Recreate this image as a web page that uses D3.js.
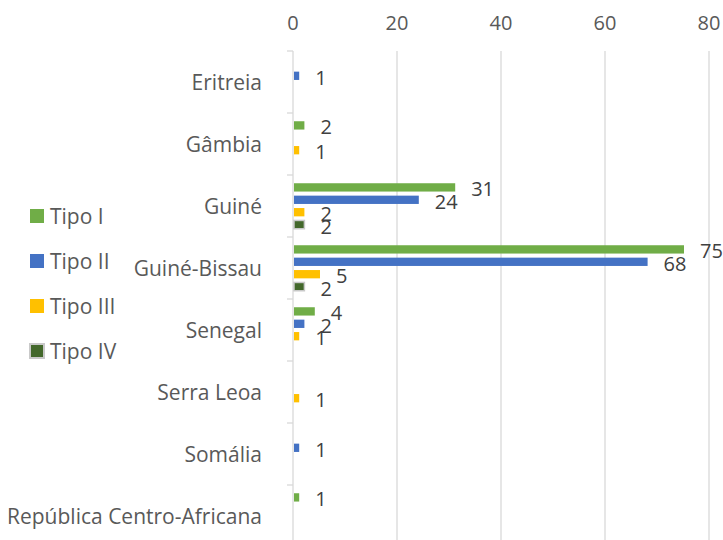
<!DOCTYPE html>
<html>
<head>
<meta charset="utf-8">
<script src="https://cdn.jsdelivr.net/npm/d3@7"></script>
<style>
	body { margin: 0; background: #fff; }
	text { font-family: "Open Sans", sans-serif; }
</style>
</head>
<body>
<div class="canvas"></div>
<script>
const dims = {width: 723, height: 540};

// data
const countries = ['Eritreia', 'Gâmbia', 'Guiné', 'Guiné-Bissau', 'Senegal', 'Serra Leoa', 'Somália', 'República Centro-Africana'];
const series = ['Tipo I', 'Tipo II', 'Tipo III', 'Tipo IV'];
const tipoI   = [0, 2, 31, 75, 4, 0, 0, 1];
const tipoII  = [1, 0, 24, 68, 2, 0, 1, 0];
const tipoIII = [0, 1, 2, 5, 1, 1, 0, 0];
const tipoIV  = [0, 0, 2, 2, 0, 0, 0, 0];
const xTicks = [0, 20, 40, 60, 80];

const values = [tipoI, tipoII, tipoIII, tipoIV];
const colours = ['#70ad47', '#4472c4', '#ffc000', '#43682b'];

const svg = d3.select('.canvas')
	.append('svg')
	.attr('width', dims.width)
	.attr('height', dims.height);

// scales
const x = d3.scaleLinear()
	.domain([0, 80])
	.range([293, 709]);

const y = d3.scaleBand()
	.domain(countries)
	.range([51, 51 + 62 * countries.length]);

const inner = d3.scaleBand()
	.domain(series)
	.range([6.2, 55.8])
	.paddingInner(0.33)
	.paddingOuter(0.165);

// grid lines
svg.append('g')
	.selectAll('line')
	.data(xTicks.slice(1))
	.enter()
	.append('line')
		.attr('x1', d => x(d))
		.attr('x2', d => x(d))
		.attr('y1', 51)
		.attr('y2', dims.height)
		.attr('stroke', '#d9d9d9')
		.attr('stroke-width', 1.3);

// top tick labels
svg.append('g')
	.selectAll('text')
	.data(xTicks)
	.enter()
	.append('text')
		.attr('x', d => x(d))
		.attr('y', 22)
		.attr('text-anchor', 'middle')
		.attr('dominant-baseline', 'central')
		.attr('font-size', 20)
		.attr('fill', '#595959')
		.text(d => d);

// category axis
const yAxis = svg.append('g')
	.attr('transform', `translate(${x(0)}, 0)`)
	.call(d3.axisLeft(y).tickSize(0).tickFormat(''));
yAxis.select('.domain').remove();

yAxis.append('line')
	.attr('y1', 51)
	.attr('y2', dims.height)
	.attr('stroke', '#d9d9d9')
	.attr('stroke-width', 1.3);

yAxis.selectAll('.boundary')
	.data(countries)
	.enter()
	.append('line')
		.attr('class', 'boundary')
		.attr('x1', -6)
		.attr('x2', 0)
		.attr('y1', d => y(d))
		.attr('y2', d => y(d))
		.attr('stroke', '#d9d9d9')
		.attr('stroke-width', 1.3);

svg.append('g')
	.selectAll('text')
	.data(countries)
	.enter()
	.append('text')
		.attr('x', 262)
		.attr('y', d => y(d) + y.bandwidth() / 2)
		.attr('text-anchor', 'end')
		.attr('dominant-baseline', 'central')
		.attr('font-size', 21)
		.attr('fill', '#595959')
		.text(d => d);

// bars
const barData = [];
countries.forEach((c, i) => {
	series.forEach((s, j) => {
		if (values[j][i] > 0) barData.push({country: c, series: s, idx: j, value: values[j][i]});
	});
});

const bars = svg.append('g')
	.selectAll('.bar')
	.data(barData)
	.enter()
	.append('g')
		.attr('class', 'bar')
		.attr('transform', d => `translate(0, ${y(d.country) + inner(d.series)})`);

bars.append('rect')
	.attr('x', x(0) + 1)
	.attr('y', 0)
	.attr('width', d => x(d.value) - x(0))
	.attr('height', inner.bandwidth())
	.attr('fill', d => colours[d.idx])
	.attr('stroke', d => d.idx === 3 ? '#c9c9c9' : 'none')
	.attr('stroke-width', 1.5);

bars.append('text')
	.attr('x', d => x(d.value) + 17)
	.attr('y', inner.bandwidth() / 2 + 1.5)
	.attr('dominant-baseline', 'central')
	.attr('font-size', 20)
	.attr('fill', '#404040')
	.text(d => d.value);

// legend
const legend = svg.append('g')
	.selectAll('g')
	.data(series)
	.enter()
	.append('g')
		.attr('transform', (d, i) => `translate(30, ${216 + i * 45})`);

legend.append('rect')
	.attr('x', 0)
	.attr('y', -7)
	.attr('width', 14)
	.attr('height', 14)
	.attr('fill', (d, i) => colours[i])
	.attr('stroke', (d, i) => i === 3 ? '#c9c9c9' : 'none')
	.attr('stroke-width', 2);

legend.append('text')
	.attr('x', 20)
	.attr('y', 0)
	.attr('dominant-baseline', 'central')
	.attr('font-size', 21)
	.attr('fill', '#595959')
	.text(d => d);
</script>
</body>
</html>
